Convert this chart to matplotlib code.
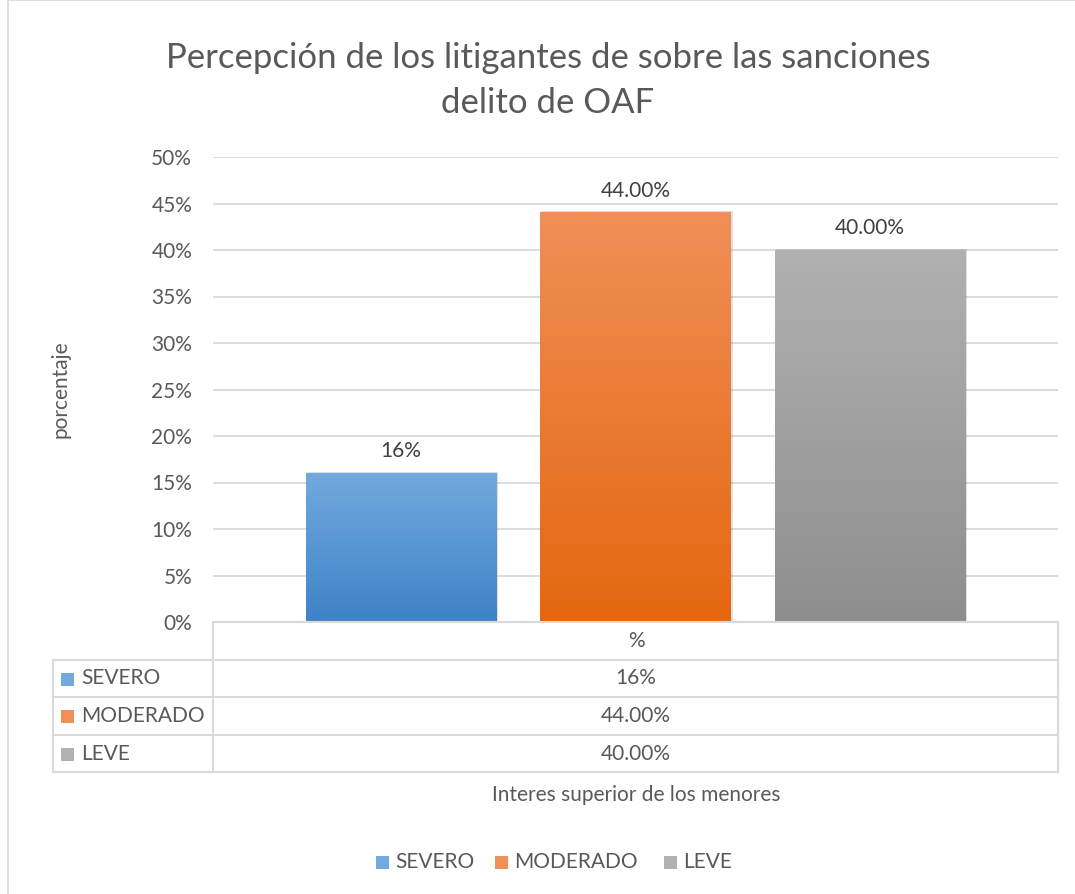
import numpy as np
import matplotlib.pyplot as plt
from matplotlib.lines import Line2D
from matplotlib.patches import Rectangle
from matplotlib.colors import LinearSegmentedColormap

plt.rcParams['font.family'] = ['Lato', 'DejaVu Sans']

categories = ['SEVERO', 'MODERADO', 'LEVE']
values = [16, 44, 40]
value_labels = ['16%', '44.00%', '40.00%']
yticks = [0, 5, 10, 15, 20, 25, 30, 35, 40, 45, 50]
top_colors = ['#72a9de', '#f08f57', '#b1b1b1']
bottom_colors = ['#3e83c7', '#e4670f', '#8e8e8e']

W, H = 1075, 894
fig = plt.figure(figsize=(W / 100, H / 100), dpi=100)
fs = 15

def fx(px):
    return px / W

def fy(py):
    return 1 - py / H

# outer chart border
fig.add_artist(Rectangle((fx(8), fy(1000)), fx(1200), 1000 / H, transform=fig.transFigure,
                         fill=False, edgecolor='#d9d9d9', lw=1.2))

ax_l, ax_r, ax_t, ax_b = 213, 1058, 157, 622
ax = fig.add_axes([fx(ax_l), fy(ax_b), fx(ax_r - ax_l), (ax_b - ax_t) / H])
for s in ax.spines.values():
    s.set_visible(False)
ax.set_xticks([])
ax.set_yticks(yticks)
ax.set_yticklabels([f'{t}%' for t in yticks], fontsize=fs, color='#595959')
ax.tick_params(axis='y', length=0, pad=15)
ax.grid(axis='y', color='#d9d9d9', lw=1.3)
ax.set_axisbelow(True)

centers = [0.5 - 0.2775, 0.5, 0.5 + 0.2775]
bw = 0.226
for i, (c, v) in enumerate(zip(centers, values)):
    cmap = LinearSegmentedColormap.from_list('g', [bottom_colors[i], top_colors[i]])
    grad = np.linspace(0, 1, 256).reshape(-1, 1)
    # soft shadow
    ax.add_patch(Rectangle((c - bw / 2 + 0.002, 0), bw, v + 0.15, color='#000000', alpha=0.12,
                           lw=0, zorder=2))
    ax.imshow(grad, extent=(c - bw / 2, c + bw / 2, 0, v), origin='lower', cmap=cmap,
              aspect='auto', zorder=3)
    ax.text(c, v + 1.3, value_labels[i], ha='center', va='bottom', fontsize=fs, color='#404040')
ax.set_xlim(0, 1)
ax.set_ylim(0, 50)

fig.text(fx(60), fy(389), 'porcentaje', rotation=90, ha='center', va='center',
         fontsize=fs, color='#595959')

# data table below the axis
lc = '#d9d9d9'
rows_y = [622, 660, 697, 735, 772]
def hline(x0, x1, y):
    fig.add_artist(Line2D([fx(x0), fx(x1)], [fy(y), fy(y)], color=lc, lw=1.5))

def vline(x, y0, y1):
    fig.add_artist(Line2D([fx(x), fx(x)], [fy(y0), fy(y1)], color=lc, lw=1.5))

hline(213, ax_r, 622)
for y in rows_y[1:]:
    hline(53, ax_r, y)
vline(53, 660, 772)
vline(213, 622, 772)
vline(ax_r, 622, 772)

fig.text(fx(636), fy(641), '%', ha='center', va='center', fontsize=fs, color='#595959')
for i, cat in enumerate(categories):
    yc = (rows_y[i + 1] + rows_y[i + 2]) / 2
    fig.add_artist(Rectangle((fx(61), fy(yc + 7)), fx(13), 13 / H, transform=fig.transFigure,
                             facecolor=top_colors[i], edgecolor='none'))
    fig.text(fx(81), fy(yc), cat, ha='left', va='center', fontsize=fs, color='#595959')
    fig.text(fx(636), fy(yc), value_labels[i], ha='center', va='center', fontsize=fs,
             color='#595959')

fig.text(fx(636), fy(795), 'Interes superior de los menores', ha='center', va='center',
         fontsize=fs, color='#595959')

fig.text(fx(548), fy(58), 'Percepción de los litigantes de sobre las sanciones',
         ha='center', va='center', fontsize=25, color='#595959')
fig.text(fx(548), fy(103), 'delito de OAF', ha='center', va='center', fontsize=25,
         color='#595959')

# legend
leg_x = [376, 495, 664]
for i, cat in enumerate(categories):
    fig.add_artist(Rectangle((fx(leg_x[i]), fy(869)), fx(13), 13 / H, transform=fig.transFigure,
                             facecolor=top_colors[i], edgecolor='none'))
    fig.text(fx(leg_x[i] + 19), fy(862), cat, ha='left', va='center', fontsize=fs,
             color='#595959')

fig.savefig('out.png', dpi=100)
